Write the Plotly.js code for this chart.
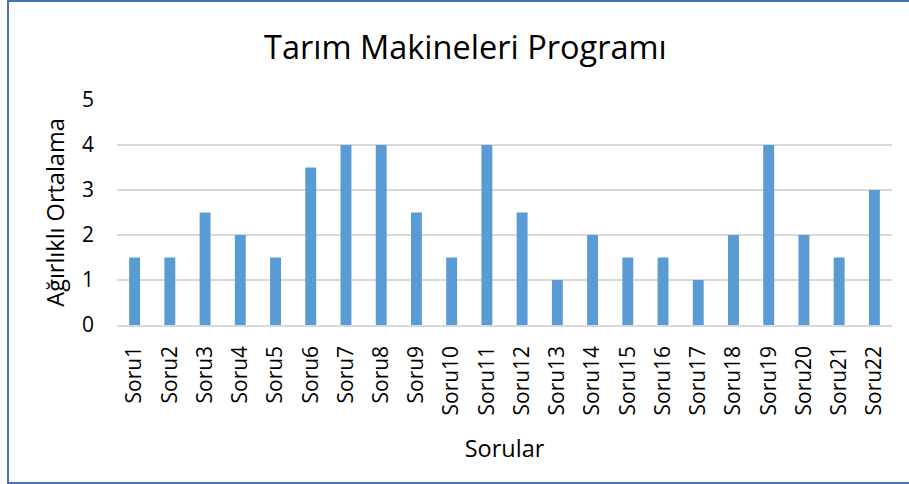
<!DOCTYPE html>
<html>
<head>
<meta charset="utf-8">
<script src="https://cdn.plot.ly/plotly-3.0.1.min.js"></script>
<style>
html,body{margin:0;padding:0;background:#fff;overflow:hidden;}
#wrap{position:relative;width:909px;height:484px;}
#chart{position:absolute;left:0;top:0;width:909px;height:484px;}
#frame{position:absolute;left:7px;top:0px;width:920px;height:480px;border:2px solid #4472C4;pointer-events:none;}
</style>
</head>
<body>
<div id="wrap"><div id="chart"></div><div id="frame"></div></div>
<script>
const categories = ["Soru1","Soru2","Soru3","Soru4","Soru5","Soru6","Soru7","Soru8","Soru9","Soru10","Soru11","Soru12","Soru13","Soru14","Soru15","Soru16","Soru17","Soru18","Soru19","Soru20","Soru21","Soru22"];
const values = [1.5,1.5,2.5,2,1.5,3.5,4,4,2.5,1.5,4,2.5,1,2,1.5,1.5,1,2,4,2,1.5,3];
const yTicks = [0,1,2,3,4,5];

const font = "Open Sans, sans-serif";
const data = [{
  type: 'bar',
  x: categories,
  y: values,
  marker: {color: '#5B9BD5', line: {width: 0}},
  hoverinfo: 'x+y'
}];
const layout = {
  width: 909, height: 484,
  margin: {l: 117, r: 17, t: 100, b: 159},
  paper_bgcolor: '#ffffff', plot_bgcolor: '#ffffff',
  bargap: 0.69,
  showlegend: false,
  title: {text: 'Tarım Makineleri Programı', font: {family: font, size: 32.5, color: '#000'}, x: 0.512, xanchor: 'center', y: 0.902, yanchor: 'middle'},
  xaxis: {
    type: 'category',
    tickangle: -90,
    tickfont: {family: font, size: 21, color: '#000'},
    ticks: '', ticklabelstandoff: 11,
    showgrid: false, showline: true, linecolor: '#d9d9d9', linewidth: 1.5,
    title: {text: 'Sorular', font: {family: font, size: 23.5, color: '#000'}, standoff: 26}
  },
  yaxis: {
    range: [0, 5], tickvals: yTicks, ticktext: yTicks.map(String),
    tickfont: {family: font, size: 21, color: '#000'},
    ticks: '', ticklabelstandoff: 22,
    showgrid: true, gridcolor: '#d9d9d9', gridwidth: 1.5,
    zeroline: false, showline: false,
    title: {text: 'Ağırlıklı Ortalama', font: {family: font, size: 23.5, color: '#000'}, standoff: 10}
  }
};
Plotly.newPlot('chart', data, layout, {displayModeBar: false, staticPlot: true});
</script>
</body>
</html>
